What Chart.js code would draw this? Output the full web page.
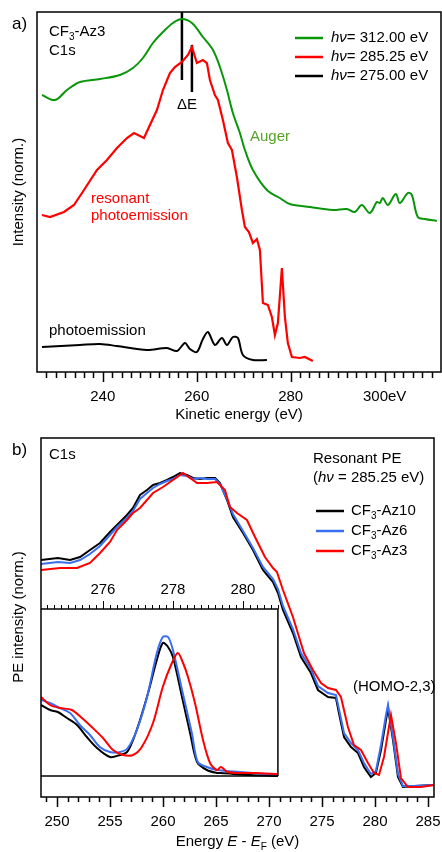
<!DOCTYPE html>
<html><head><meta charset="utf-8">
<script src="https://cdn.jsdelivr.net/npm/chart.js@4.4.1/dist/chart.umd.min.js"></script>
<style>
html,body{margin:0;padding:0;background:#fff;}
#wrap{position:relative;width:442px;height:852px;}
canvas{position:absolute;left:0;}
#ca{top:0;} #cb{top:430px;}
</style></head>
<body><div id="wrap"><canvas id="ca" width="442" height="430"></canvas><canvas id="cb" width="442" height="422"></canvas></div>
<script>
// ---------- Panel a data (kinetic energy, eV ; normalised intensity, arb.) ----------
const aTicks = [240, 260, 280, 300];
const aTickLabels = ['240', '260', '280', '300eV'];
const greenKE = [227.06,229.83,232.38,235.15,239.40,243.66,246.43,248.55,250.68,252.81,254.94,256.85,258.98,261.32,263.45,264.94,266.43,267.70,269.19,270.26,271.96,274.94,277.70,279.83,284.09,288.98,291.96,293.66,295.15,296.85,298.34,298.98,299.62,300.68,302.38,303.23,304.94,305.79,307.06,308.55,311.11];
const greenI  = [277,272,282,290,293,297,304,314,329,340,349,353,349,335,322,305,282,259,239,222,202,182,174,168,165,162,163,160,167,159,170,169,174,167,178,169,179,177,155,153,151];
const redKE = [227.06,228.77,231.74,233.87,236.00,238.77,240.89,243.02,245.15,246.64,248.77,250.04,251.53,252.81,254.30,255.36,256.85,258.13,258.98,260.04,261.32,262.17,262.81,263.87,264.51,265.57,266.64,267.49,268.55,269.62,270.26,271.11,271.96,272.81,273.45,274.09,275.15,276.00,276.64,277.28,278.13,278.77,279.40,280.26,281.96,283.02,284.72];
const redI  = [157,155,160,167,182,202,212,224,234,239,234,247,262,282,299,305,310,317,325,309,312,309,292,277,272,252,229,222,195,162,145,140,129,133,122,69,67,55,37,49,104,55,29,15,14,15,11];
const blackKE = [227.06,235.15,239.40,243.02,249.40,253.66,255.79,257.49,258.55,260.04,261.32,262.38,263.87,265.36,266.43,267.70,268.77,269.83,271.96,274.94];
const blackI  = [25,27,28,26,22,24,21,29,23,20,33,40,27,34,27,35,34,17,12,12];
const deltaE_KE = [256.85, 258.98];
const deltaE_top = [360, 327];
const deltaE_bot = [292, 280];
const aLegend = ['312.00', '285.25', '275.00'];

// ---------- Panel b data (E - EF, eV ; PE intensity, arb.) ----------
const bTicks = [250, 255, 260, 265, 270, 275, 280, 285];
const bInsetTicks = [276, 278, 280];
const mainE = [248.49,250.09,251.23,252.17,253.11,254.06,255.00,255.66,256.60,257.17,257.83,258.49,259.06,259.72,260.38,260.94,261.60,262.26,262.83,263.49,264.15,264.91,265.38,266.04,266.60,267.55,268.49,269.43,270.38,270.85,271.32,272.26,273.02,273.96,274.62,275.57,276.32,276.60,277.08,277.74,278.40,278.96,279.62,280.09,280.57,281.04,281.23,281.70,282.17,282.64,283.68,285.57];
const az10I = [237,239,237,240,247,254,265,272,282,289,302,307,312,314,317,320,324,322,319,318,319,319,314,297,280,264,247,227,215,204,187,164,140,124,107,100,99,84,60,50,44,30,20,24,47,77,89,57,20,10,11,12];
const az6I  = [233,235,234,237,243,251,262,270,279,286,298,304,309,313,316,318,322,321,318,319,318,318,313,298,283,266,249,230,218,208,191,168,144,128,111,104,102,88,64,54,47,34,23,26,52,82,92,60,23,11,11,12];
const az3E = [248.49,250.28,251.89,253.11,254.06,255.00,255.66,256.60,257.17,257.83,259.06,260.00,260.94,261.89,262.55,263.21,264.15,265.09,265.85,266.32,266.98,267.92,268.68,269.62,270.38,270.75,271.32,272.26,273.30,274.15,274.91,275.57,276.32,276.79,277.45,278.02,278.68,279.34,279.91,280.38,280.85,281.51,281.98,282.45,283.11,284.34,285.57];
const az3I = [227,229,229,234,244,255,267,277,284,289,304,310,317,324,319,314,314,315,307,290,284,277,260,240,229,225,207,180,144,127,114,109,107,100,70,52,47,34,24,22,40,82,54,19,10,10,12];
// inset (kinetic-energy scale on the inset's top axis)
const inAz10E = [274.23,274.49,274.71,274.97,275.26,275.54,275.83,276.20,276.49,276.69,276.86,277.06,277.29,277.54,277.71,277.86,278.00,278.26,278.49,278.69,278.97,279.26,279.37,280.20,281.00];
const inAz10I = [92,87,85,79,72,60,49,40,42,45,57,77,104,137,154,150,140,100,64,35,27,24,24,22,21];
const inAz6E = [274.23,274.49,274.71,275.06,275.34,275.63,275.91,276.20,276.49,276.71,276.97,277.26,277.54,277.71,277.86,278.00,278.26,278.54,278.71,278.97,279.26,279.91,281.00];
const inAz6I = [97,94,90,84,72,62,50,45,45,49,67,100,144,160,160,147,107,64,35,30,27,25,22];
const inAz3E = [274.23,274.49,274.77,275.11,275.40,275.71,276.00,276.29,276.57,276.86,277.11,277.43,277.71,277.97,278.14,278.29,278.43,278.63,278.86,279.06,279.26,279.37,279.57,279.94,280.31,281.00];
const inAz3I = [100,92,89,87,79,69,59,47,42,42,50,74,110,134,144,134,120,94,57,34,27,30,25,24,24,23];
const bLegend = ['10', '6', '3'];

// ---------- layout / style ----------
const FONT = "'Liberation Sans', Arial, Helvetica, sans-serif";
const GREEN = '#0a960a', RED = '#ff0000', BLUE = '#3a6ef2', BLACK = '#000000';
const INSET = {top: 188, bottom: 21, right: 281.0};
Chart.defaults.font.family = FONT;
Chart.defaults.color = '#000';

const zip = (xs, ys) => xs.map((x, i) => ({x, y: ys[i]}));

function rich(ctx, parts, x, y, align, size, color) {
  const f = p => `${p.i ? 'italic ' : ''}${p.sub ? Math.round(size * 0.68) : size}px ${FONT}`;
  let w = 0;
  parts.forEach(p => { ctx.font = f(p); w += ctx.measureText(p.t).width; });
  let cx = align === 'center' ? x - w / 2 : x;
  ctx.textAlign = 'left'; ctx.textBaseline = 'middle'; ctx.fillStyle = color;
  parts.forEach(p => { ctx.font = f(p); ctx.fillText(p.t, cx, y + (p.sub ? size * 0.32 : 0)); cx += ctx.measureText(p.t).width; });
}
function seg(ctx, x1, y1, x2, y2) { ctx.beginPath(); ctx.moveTo(x1, y1); ctx.lineTo(x2, y2); ctx.stroke(); }

const annoA = {
  id: 'annoA',
  afterDraw(chart) {
    const {ctx, chartArea: ca, scales: {x}} = chart;
    ctx.save();
    ctx.strokeStyle = '#000'; ctx.lineWidth = 1.5;
    ctx.strokeRect(ca.left, ca.top, ca.right - ca.left, ca.bottom - ca.top);
    for (let v = 228; v <= 310; v += 2) {
      const px = Math.round(x.getPixelForValue(v)) + 0.5;
      seg(ctx, px, ca.bottom, px, ca.bottom + (v % 20 === 0 ? 10 : 6));
    }
    aTicks.forEach((v, i) => rich(ctx, [{t: aTickLabels[i]}], x.getPixelForValue(v), ca.bottom + 25, 'center', 15, '#000'));
    // labels
    rich(ctx, [{t: 'a)'}], 12, 24, 'left', 17, '#000');
    rich(ctx, [{t: 'CF'}, {t: '3', sub: 1}, {t: '-Az3'}], 49, 32, 'left', 15, '#000');
    rich(ctx, [{t: 'C1s'}], 49, 51, 'left', 15, '#000');
    rich(ctx, [{t: 'ΔE'}], 187, 105, 'center', 15, '#000');
    rich(ctx, [{t: 'Auger'}], 250, 137, 'left', 15, '#55a325');
    rich(ctx, [{t: 'resonant'}], 91, 199, 'left', 15, RED);
    rich(ctx, [{t: 'photoemission'}], 91, 216, 'left', 15, RED);
    rich(ctx, [{t: 'photoemission'}], 49, 331, 'left', 15, '#000');
    const cols = [GREEN, RED, BLACK];
    aLegend.forEach((e, i) => {
      const yy = 38 + i * 19;
      ctx.strokeStyle = cols[i]; ctx.lineWidth = 2.5; seg(ctx, 295, yy, 323, yy);
      rich(ctx, [{t: 'hν', i: 1}, {t: '= ' + e + ' eV'}], 331, yy, 'left', 15, '#000');
    });
    ctx.save(); ctx.translate(19, 192); ctx.rotate(-Math.PI / 2);
    rich(ctx, [{t: 'Intensity (norm.)'}], 0, 0, 'center', 15, '#000');
    ctx.restore();
    rich(ctx, [{t: 'Kinetic energy (eV)'}], (ca.left + ca.right) / 2, 415, 'center', 15, '#000');
    ctx.restore();
  }
};

const annoB = {
  id: 'annoB',
  afterDraw(chart) {
    const {ctx, chartArea: ca, scales: {x, y, xi}} = chart;
    ctx.save();
    ctx.strokeStyle = '#000'; ctx.lineWidth = 1.5;
    ctx.strokeRect(ca.left, ca.top, ca.right - ca.left, ca.bottom - ca.top);
    for (let v = 249; v <= 285; v++) {
      const px = Math.round(x.getPixelForValue(v)) + 0.5;
      seg(ctx, px, ca.bottom, px, ca.bottom + (v % 5 === 0 ? 10 : 5));
    }
    bTicks.forEach(v => rich(ctx, [{t: String(v)}], x.getPixelForValue(v), ca.bottom + 25, 'center', 15, '#000'));
    // inset box + axis
    const iy = y.getPixelForValue(INSET.top), ib = y.getPixelForValue(INSET.bottom), ir = xi.getPixelForValue(INSET.right);
    ctx.lineWidth = 1.5;
    seg(ctx, ca.left, iy, ir, iy);
    seg(ctx, ir, iy, ir, ib);
    seg(ctx, ca.left, ib, ir, ib);
    ctx.lineWidth = 1;
    for (let k = 1372; k <= 1405; k++) {
      const v = k / 5, px = Math.round(xi.getPixelForValue(v)) + 0.5;
      seg(ctx, px, iy, px, iy - (k % 10 === 0 ? 8 : 4));
    }
    bInsetTicks.forEach(v => rich(ctx, [{t: String(v)}], xi.getPixelForValue(v), iy - 19, 'center', 15, '#000'));
    // text
    rich(ctx, [{t: 'b)'}], 12, 20, 'left', 17, '#000');
    rich(ctx, [{t: 'C1s'}], 49, 25, 'left', 15, '#000');
    rich(ctx, [{t: 'Resonant PE'}], 313, 29, 'left', 15, '#000');
    rich(ctx, [{t: '('}, {t: 'hν', i: 1}, {t: ' = 285.25 eV)'}], 313, 48, 'left', 15, '#000');
    const cols = [BLACK, BLUE, RED];
    bLegend.forEach((n, i) => {
      const yy = 81 + i * 20;
      ctx.strokeStyle = cols[i]; ctx.lineWidth = 2.5; seg(ctx, 316, yy, 344, yy);
      rich(ctx, [{t: 'CF'}, {t: '3', sub: 1}, {t: '-Az' + n}], 351, yy, 'left', 15, '#000');
    });
    rich(ctx, [{t: '(HOMO-2,3)'}], 353, 257, 'left', 15, '#000');
    ctx.save(); ctx.translate(19, 187); ctx.rotate(-Math.PI / 2);
    rich(ctx, [{t: 'PE intensity (norm.)'}], 0, 0, 'center', 15, '#000');
    ctx.restore();
    rich(ctx, [{t: 'Energy '}, {t: 'E', i: 1}, {t: ' - '}, {t: 'E', i: 1}, {t: 'F', sub: 1}, {t: ' (eV)'}], (ca.left + ca.right) / 2, 412, 'center', 15, '#000');
    ctx.restore();
  }
};

const common = {
  responsive: false, animation: false, devicePixelRatio: 1,
  elements: {point: {radius: 0}, line: {borderWidth: 2, tension: 0, fill: false}},
  plugins: {legend: {display: false}, tooltip: {enabled: false}}
};

new Chart(document.getElementById('ca'), {
  type: 'line',
  data: {datasets: [
    {data: zip(blackKE, blackI), borderColor: BLACK, tension: 0.3},
    {data: zip(redKE, redI), borderColor: RED, borderWidth: 2.2},
    {data: zip(greenKE, greenI), borderColor: GREEN, tension: 0.35},
    {data: [{x: deltaE_KE[0], y: deltaE_top[0]}, {x: deltaE_KE[0], y: deltaE_bot[0]}], borderColor: BLACK, borderWidth: 2.5},
    {data: [{x: deltaE_KE[1], y: deltaE_top[1]}, {x: deltaE_KE[1], y: deltaE_bot[1]}], borderColor: BLACK, borderWidth: 2.5}
  ]},
  options: Object.assign({}, common, {
    layout: {padding: {left: 37, top: 12, right: 1, bottom: 0}},
    scales: {
      x: {type: 'linear', min: 226, max: 312,
          grid: {display: false, drawTicks: false}, border: {display: false},
          afterBuildTicks: s => { s.ticks = aTicks.map(v => ({value: v})); },
          afterFit: s => { s.height = 58; },
          ticks: {display: false}},
      y: {display: false, min: 0, max: 360}
    }
  }),
  plugins: [annoA]
});

new Chart(document.getElementById('cb'), {
  type: 'line',
  data: {datasets: [
    {data: zip(az3E, az3I), borderColor: RED, xAxisID: 'x'},
    {data: zip(mainE, az6I), borderColor: BLUE, xAxisID: 'x'},
    {data: zip(mainE, az10I), borderColor: BLACK, xAxisID: 'x'},
    {data: zip(inAz3E, inAz3I), borderColor: RED, xAxisID: 'xi', tension: 0.3},
    {data: zip(inAz6E, inAz6I), borderColor: BLUE, xAxisID: 'xi', tension: 0.3},
    {data: zip(inAz10E, inAz10I), borderColor: BLACK, xAxisID: 'xi', tension: 0.3}
  ]},
  options: Object.assign({}, common, {
    layout: {padding: {left: 41, top: 8, right: 8, bottom: 0}},
    scales: {
      x: {type: 'linear', position: 'bottom', min: 248.49, max: 285.57,
          grid: {display: false, drawTicks: false}, border: {display: false},
          afterBuildTicks: s => { s.ticks = bTicks.map(v => ({value: v})); },
          afterFit: s => { s.height = 55; },
          ticks: {display: false}},
      xi: {type: 'linear', display: false, min: 274.23, max: 285.46},
      y: {display: false, min: 0, max: 359}
    }
  }),
  plugins: [annoB]
});
</script>
</body></html>
